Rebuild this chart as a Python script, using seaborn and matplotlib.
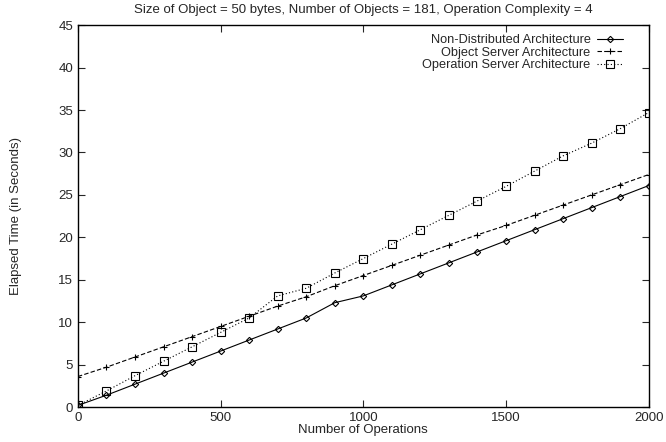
import numpy as np
import pandas as pd
import seaborn as sns
import matplotlib.pyplot as plt

operations = list(range(0, 2001, 100))

non_distributed = [0.2, 1.4, 2.7, 4.0, 5.3, 6.6, 7.9, 9.2, 10.5, 12.3, 13.1,
                   14.4, 15.7, 17.0, 18.3, 19.6, 20.9, 22.2, 23.5, 24.8, 26.1]
object_server = [3.6, 4.7, 5.9, 7.1, 8.3, 9.5, 10.7, 11.9, 13.0, 14.3, 15.5,
                 16.7, 17.9, 19.1, 20.3, 21.4, 22.6, 23.8, 25.0, 26.2, 27.4]
operation_server = [0.2, 1.9, 3.7, 5.4, 7.1, 8.8, 10.5, 13.1, 14.0, 15.8, 17.5,
                    19.2, 20.9, 22.6, 24.3, 26.0, 27.8, 29.6, 31.1, 32.8, 34.7]

series_names = ["Non-Distributed Architecture",
                "Object Server Architecture",
                "Operation Server Architecture"]

df = pd.DataFrame({
    "ops": operations * 3,
    "time": non_distributed + object_server + operation_server,
    "arch": np.repeat(series_names, len(operations)),
})

sns.set_style("ticks")
plt.rcParams["font.family"] = ["Liberation Sans", "DejaVu Sans"]

fig = plt.figure(figsize=(6.66, 4.42), dpi=100)
ax = fig.add_axes([0.117, 0.079, 0.857, 0.864])

styles = {
    series_names[0]: dict(linestyle="-", marker="D", markersize=3.2),
    series_names[1]: dict(linestyle=(0, (4, 2)), marker="+", markersize=5),
    series_names[2]: dict(linestyle=(0, (1, 2)), marker="s", markersize=5.5),
}

for name in series_names:
    sub = df[df["arch"] == name]
    sns.lineplot(data=sub, x="ops", y="time", ax=ax, label=name,
                 color="black", linewidth=0.8,
                 markerfacecolor="none", markeredgecolor="black",
                 markeredgewidth=0.8, **styles[name])

ax.set_xlim(0, 2000)
ax.set_ylim(0, 45)
ax.set_xticks([0, 500, 1000, 1500, 2000])
ax.set_yticks(range(0, 46, 5))
ax.tick_params(direction="in", top=True, right=True, length=5,
               labelsize=9.5, width=0.8)
for s in ax.spines.values():
    s.set_linewidth(1.0)
    s.set_color("black")

ax.set_title("Size of Object = 50 bytes, Number of Objects = 181, Operation Complexity = 4",
             fontsize=9.5, pad=9)
ax.set_xlabel("Number of Operations", fontsize=9.5, labelpad=0)
ax.set_ylabel("Elapsed Time (in Seconds)", fontsize=9.5, labelpad=26)

ax.legend(loc="upper right", bbox_to_anchor=(0.97, 1.0), frameon=False,
          markerfirst=False, fontsize=9.2, handlelength=2.0,
          handletextpad=0.5, labelspacing=0.05, borderaxespad=0.3)

plt.savefig("out.png", dpi=100)
plt.close()
